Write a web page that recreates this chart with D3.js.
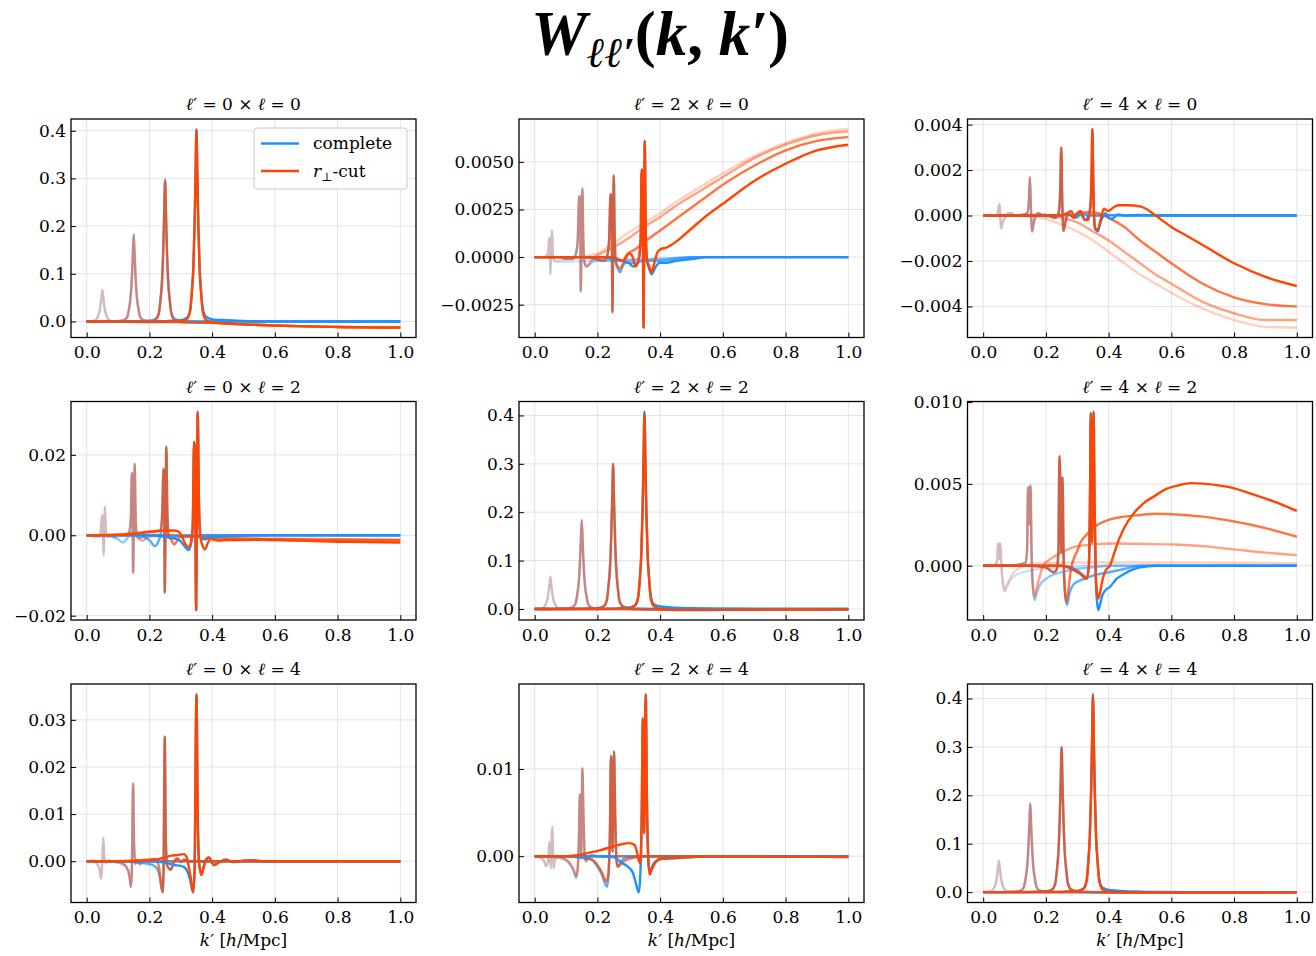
<!DOCTYPE html>
<html><head><meta charset="utf-8">
<script src="https://cdn.jsdelivr.net/npm/d3@7"></script>
<style>body{margin:0;background:#fff}</style>
</head><body><svg id="chart" width="1316" height="956"></svg>
<script>
// ---------------- data ----------------
const kCentres = [0.05, 0.15, 0.25, 0.35];
const curveAlphas = [0.25, 0.5, 0.75, 1.0];
const xTickValues = [0, 0.2, 0.4, 0.6, 0.8, 1.0];
const legendLabels = ["complete", "r⊥-cut"];

const yTicks_0x0 = [0, 0.1, 0.2, 0.3, 0.4];
const yTicks_2x0 = [-0.0025, 0, 0.0025, 0.005];
const yTicks_4x0 = [-0.004, -0.002, 0, 0.002, 0.004];
const yTicks_0x2 = [-0.02, 0, 0.02];
const yTicks_2x2 = [0, 0.1, 0.2, 0.3, 0.4];
const yTicks_4x2 = [0, 0.005, 0.01];
const yTicks_0x4 = [0, 0.01, 0.02, 0.03];
const yTicks_2x4 = [0, 0.01];
const yTicks_4x4 = [0, 0.1, 0.2, 0.3, 0.4];

// each list: one curve per k in kCentres, points [k', W]
const complete_0x0 = [
 [[0,0.0004],[0.02,0.0013],[0.03,0.004],[0.035,0.010],[0.04,0.0187],[0.044,0.0333],[0.047,0.050],[0.05,0.0667],[0.053,0.050],[0.056,0.0333],[0.06,0.0187],[0.065,0.010],[0.07,0.004],[0.08,0.0013],[0.1,0.0004],[0.2,0],[1.0,0]],
 [[0,0],[0.05,0],[0.1,0.0011],[0.12,0.0035],[0.13,0.011],[0.135,0.0275],[0.14,0.0512],[0.144,0.0915],[0.147,0.137],[0.15,0.183],[0.153,0.137],[0.156,0.0915],[0.16,0.0512],[0.165,0.0275],[0.17,0.011],[0.18,0.0035],[0.2,0.0011],[0.3,0],[1.0,0]],
 [[0,0],[0.1,0],[0.2,0.0018],[0.22,0.0056],[0.23,0.018],[0.235,0.0447],[0.24,0.0834],[0.244,0.149],[0.247,0.2235],[0.25,0.298],[0.253,0.2235],[0.256,0.149],[0.26,0.0834],[0.265,0.0447],[0.27,0.018],[0.28,0.0056],[0.3,0.0018],[0.4,0],[1.0,0]],
 [[0,0],[0.2,0],[0.3,0.0028],[0.32,0.008],[0.33,0.025],[0.335,0.0608],[0.34,0.113],[0.344,0.202],[0.347,0.303],[0.35,0.4038],[0.353,0.303],[0.356,0.202],[0.36,0.114],[0.365,0.062],[0.37,0.027],[0.38,0.010],[0.4,0.0045],[0.45,0.0025],[0.5,0.001],[0.6,0],[1.0,0]]
];
const cut_0x0 = [
 [[0,0],[0.02,0.0011],[0.03,0.0037],[0.035,0.0095],[0.04,0.0183],[0.044,0.0328],[0.047,0.0495],[0.05,0.0662],[0.053,0.0495],[0.056,0.0327],[0.06,0.0181],[0.065,0.0093],[0.07,0.0033],[0.08,0.0005],[0.1,-0.0004],[0.2,-0.0008],[0.3,-0.0018],[0.4,-0.003],[0.45,-0.0044],[0.5,-0.006],[0.6,-0.0085],[0.7,-0.0102],[0.8,-0.0115],[0.9,-0.0123],[1.0,-0.0126]],
 [[0,0],[0.05,-0.0003],[0.1,0.0003],[0.12,0.0026],[0.13,0.0101],[0.135,0.0266],[0.14,0.0503],[0.144,0.0906],[0.147,0.136],[0.15,0.182],[0.153,0.136],[0.156,0.0905],[0.16,0.0502],[0.165,0.0265],[0.17,0.010],[0.18,0.0024],[0.2,-0.0001],[0.3,-0.0018],[0.4,-0.003],[0.45,-0.0044],[0.5,-0.006],[0.6,-0.0085],[0.7,-0.0102],[0.8,-0.0115],[0.9,-0.0123],[1.0,-0.0127]],
 [[0,0],[0.1,-0.0005],[0.2,0.0005],[0.22,0.0042],[0.23,0.0165],[0.235,0.0428],[0.24,0.0815],[0.244,0.147],[0.247,0.2215],[0.25,0.296],[0.253,0.2215],[0.256,0.147],[0.26,0.0813],[0.265,0.0425],[0.27,0.016],[0.28,0.0032],[0.3,-0.0008],[0.35,-0.0022],[0.4,-0.003],[0.45,-0.0044],[0.5,-0.006],[0.6,-0.0085],[0.7,-0.0102],[0.8,-0.0115],[0.9,-0.0123],[1.0,-0.0127]],
 [[0,0],[0.1,-0.0004],[0.2,-0.001],[0.3,0.0003],[0.32,0.0055],[0.33,0.0222],[0.335,0.058],[0.34,0.110],[0.344,0.199],[0.347,0.300],[0.35,0.401],[0.353,0.300],[0.356,0.199],[0.36,0.110],[0.365,0.057],[0.37,0.021],[0.38,0.004],[0.4,-0.002],[0.45,-0.0042],[0.5,-0.006],[0.6,-0.0085],[0.7,-0.0103],[0.8,-0.0116],[0.9,-0.0124],[1.0,-0.0128]]
];

const complete_2x0 = [
 [[0,0],[0.03,0],[0.04,0.0001],[0.044,0.0004],[0.046,0.001],[0.048,0.0009],[0.05,-0.0009],[0.052,0.0004],[0.055,0.0014],[0.058,0.0002],[0.062,-0.0002],[0.07,-0.00025],[0.1,-0.00025],[0.15,-0.0002],[0.2,-0.00018],[0.3,-0.00015],[0.4,-0.0001],[0.5,-0.00005],[0.6,0],[1.0,0]],
 [[0,0],[0.08,0],[0.1,-0.0001],[0.12,-0.0001],[0.13,0.0001],[0.137,0.0008],[0.142,0.0032],[0.145,0.0031],[0.147,-0.0018],[0.149,0.0008],[0.152,0.0036],[0.155,0.0009],[0.158,-0.0002],[0.165,-0.0005],[0.175,-0.0004],[0.19,-0.0002],[0.2,-0.0002],[0.25,-0.0002],[0.3,-0.00015],[0.4,-0.0001],[0.5,0],[1.0,0]],
 [[0,0],[0.15,0],[0.2,-0.0001],[0.22,-0.0002],[0.23,0.0],[0.237,0.0008],[0.242,0.0033],[0.245,0.0032],[0.248,-0.0029],[0.25,0.0005],[0.252,0.0043],[0.255,0.0012],[0.258,-0.0002],[0.265,-0.0006],[0.272,-0.0008],[0.28,-0.0005],[0.29,-0.0003],[0.3,-0.0003],[0.32,-0.0003],[0.35,-0.0002],[0.4,-0.0002],[0.45,-0.0001],[0.5,0],[1.0,0]],
 [[0,0],[0.2,0],[0.25,-0.0001],[0.28,-0.0002],[0.3,-0.0003],[0.315,-0.0005],[0.325,-0.0004],[0.333,0.0],[0.338,0.001],[0.341,0.0046],[0.344,0.0045],[0.347,-0.0037],[0.349,0.001],[0.351,0.0061],[0.354,0.0015],[0.358,-0.0002],[0.365,-0.0006],[0.373,-0.0009],[0.38,-0.0007],[0.39,-0.0004],[0.4,-0.0003],[0.42,-0.0003],[0.45,-0.0002],[0.5,-0.0001],[0.55,0],[1.0,0]]
];
const cut_2x0 = [
 [[0,0],[0.03,0],[0.04,0.0001],[0.044,0.0004],[0.046,0.001],[0.048,0.0009],[0.05,-0.0009],[0.052,0.0004],[0.055,0.0014],[0.058,0.0002],[0.062,-0.0002],[0.07,-0.0002],[0.09,-0.00015],[0.12,-0.00005],[0.15,0.00003],[0.2,0.0002],[0.25,0.0007],[0.3,0.0013],[0.35,0.0018],[0.4,0.0023],[0.45,0.0029],[0.5,0.0034],[0.55,0.0039],[0.6,0.0044],[0.7,0.0053],[0.8,0.006],[0.9,0.0065],[1.0,0.00673]],
 [[0,0],[0.08,0],[0.1,-0.0001],[0.12,-0.0001],[0.13,0.0001],[0.137,0.0008],[0.142,0.0032],[0.145,0.0031],[0.147,-0.0018],[0.149,0.0008],[0.152,0.0036],[0.155,0.0009],[0.158,-0.0002],[0.165,-0.0005],[0.175,-0.0003],[0.19,0.0],[0.2,0.0001],[0.25,0.0005],[0.3,0.001],[0.35,0.0016],[0.4,0.0021],[0.45,0.0027],[0.5,0.0032],[0.55,0.0037],[0.6,0.0042],[0.7,0.0052],[0.8,0.0059],[0.9,0.0064],[1.0,0.0066]],
 [[0,0],[0.15,0],[0.2,-0.0001],[0.22,-0.0002],[0.23,0.0],[0.237,0.0008],[0.242,0.0033],[0.245,0.0032],[0.248,-0.0029],[0.25,0.0005],[0.252,0.0043],[0.255,0.0012],[0.258,-0.0002],[0.265,-0.0005],[0.272,-0.0006],[0.28,-0.0004],[0.29,-0.0001],[0.3,0.0002],[0.32,0.0004],[0.35,0.0008],[0.4,0.0014],[0.45,0.002],[0.5,0.0026],[0.55,0.0032],[0.6,0.0038],[0.7,0.0048],[0.8,0.0056],[0.9,0.0061],[1.0,0.0063]],
 [[0,0],[0.2,0],[0.25,0.0],[0.28,-0.0002],[0.3,0.0002],[0.31,0.0001],[0.322,-0.0005],[0.333,0.0],[0.338,0.001],[0.341,0.0046],[0.344,0.0044],[0.347,-0.0037],[0.349,0.001],[0.351,0.0061],[0.354,0.0015],[0.358,-0.0001],[0.365,-0.0005],[0.372,-0.0008],[0.38,-0.0004],[0.39,0.0002],[0.4,0.0004],[0.42,0.0005],[0.45,0.0008],[0.5,0.0015],[0.55,0.0022],[0.6,0.0028],[0.7,0.004],[0.8,0.0049],[0.9,0.0056],[1.0,0.0059]]
];

const complete_4x0 = [
 [[0,0],[0.04,0],[0.046,0.0001],[0.05,0.0004],[0.052,0.0005],[0.054,0.0001],[0.057,-0.00057],[0.062,-0.0003],[0.07,-0.0001],[0.08,0.0001],[0.09,0.00012],[0.1,0.0],[0.12,-0.00003],[0.15,0.00005],[0.2,0.00003],[0.3,0],[1.0,0]],
 [[0,0],[0.1,0],[0.13,0.00005],[0.14,0.0001],[0.145,0.0005],[0.149,0.0017],[0.152,0.0004],[0.156,-0.0007],[0.16,-0.0004],[0.165,-0.0001],[0.175,0.0001],[0.19,0.0],[0.2,-0.00005],[0.25,0],[0.3,0.00003],[0.4,0],[1.0,0]],
 [[0,0],[0.15,0],[0.2,0.00003],[0.23,-0.0001],[0.24,0.0001],[0.245,0.0008],[0.249,0.003],[0.252,0.0007],[0.256,-0.00068],[0.262,-0.0003],[0.27,0.0001],[0.28,0.0002],[0.29,0.0],[0.3,-0.0001],[0.31,0.0001],[0.33,0.00005],[0.35,0],[0.4,0.00003],[0.5,0],[1.0,0]],
 [[0,0],[0.25,0],[0.27,0.0001],[0.29,-0.0001],[0.31,0.0001],[0.325,-0.0002],[0.335,0.0],[0.342,0.0004],[0.346,0.002],[0.348,0.0038],[0.351,0.0015],[0.354,-0.0002],[0.358,-0.0006],[0.366,-0.0007],[0.372,-0.0004],[0.38,-0.0001],[0.39,0.0001],[0.4,-0.0001],[0.41,-0.00015],[0.43,0.00005],[0.45,0.0],[0.5,0.00003],[0.6,0],[1.0,0]]
];
const cut_4x0 = [
 [[0,0],[0.04,0],[0.046,0.0001],[0.05,0.0004],[0.052,0.0005],[0.054,0.0001],[0.057,-0.00057],[0.062,-0.0003],[0.07,-0.0001],[0.08,0.0001],[0.09,0.0001],[0.1,0.0],[0.12,0.0],[0.15,-0.00005],[0.2,-0.00015],[0.25,-0.0004],[0.3,-0.0007],[0.35,-0.0011],[0.4,-0.0016],[0.45,-0.0021],[0.5,-0.0026],[0.55,-0.003],[0.6,-0.0034],[0.7,-0.0041],[0.8,-0.0046],[0.9,-0.0049],[1.0,-0.00493]],
 [[0,0],[0.1,0],[0.13,0.00005],[0.14,0.0001],[0.145,0.0005],[0.149,0.0017],[0.152,0.0004],[0.156,-0.0007],[0.16,-0.0004],[0.165,-0.0001],[0.175,0.0001],[0.19,0.0],[0.2,0.0],[0.25,-0.0001],[0.3,-0.0003],[0.35,-0.0007],[0.4,-0.0011],[0.45,-0.0016],[0.5,-0.0021],[0.55,-0.0026],[0.6,-0.003],[0.7,-0.0038],[0.8,-0.0043],[0.9,-0.0046],[1.0,-0.0046]],
 [[0,0],[0.15,0],[0.2,0.00003],[0.23,-0.0001],[0.24,0.0001],[0.245,0.0008],[0.249,0.003],[0.252,0.0007],[0.256,-0.00068],[0.262,-0.0003],[0.27,0.0001],[0.28,0.0002],[0.29,0.0],[0.3,0.0001],[0.33,0.00015],[0.36,0.00012],[0.4,-0.0001],[0.45,-0.0005],[0.5,-0.0011],[0.55,-0.0016],[0.6,-0.0021],[0.7,-0.003],[0.8,-0.0036],[0.9,-0.0039],[1.0,-0.004]],
 [[0,0],[0.2,0],[0.25,0.0],[0.27,0.0001],[0.29,-0.0001],[0.3,0.0001],[0.31,0.0002],[0.325,-0.0002],[0.335,-0.0002],[0.342,0.0004],[0.346,0.002],[0.348,0.00381],[0.351,0.0015],[0.354,-0.0002],[0.358,-0.0006],[0.366,-0.0006],[0.374,-0.0002],[0.385,0.0003],[0.39,0.00025],[0.4,0.0002],[0.41,0.0003],[0.43,0.00045],[0.46,0.00045],[0.5,0.0004],[0.53,0.0002],[0.55,0.0],[0.6,-0.0005],[0.65,-0.0009],[0.7,-0.0013],[0.8,-0.0021],[0.9,-0.0027],[1.0,-0.0031]]
];

const complete_0x2 = [
 [[0,0],[0.02,-0.0002],[0.035,-0.0005],[0.043,0.0],[0.049,0.005],[0.051,0.004],[0.054,-0.005],[0.056,0.001],[0.058,0.0072],[0.061,0.0015],[0.065,-0.0005],[0.075,-0.0002],[0.09,-0.0005],[0.1,-0.0003],[0.12,0],[1.0,0]],
 [[0,0],[0.05,0],[0.08,-0.0003],[0.1,-0.001],[0.115,-0.0018],[0.125,-0.0012],[0.135,0.0],[0.141,0.004],[0.144,0.0155],[0.146,0.014],[0.148,-0.0093],[0.15,0.0],[0.153,0.0178],[0.156,0.005],[0.16,-0.0005],[0.168,-0.0008],[0.18,-0.0004],[0.2,-0.0002],[0.25,-0.0001],[0.3,0],[1.0,0]],
 [[0,0],[0.15,0],[0.18,-0.0004],[0.2,-0.0012],[0.217,-0.0027],[0.227,-0.0018],[0.235,0.0],[0.241,0.005],[0.245,0.0165],[0.247,0.015],[0.249,-0.0143],[0.251,0.0],[0.254,0.022],[0.257,0.006],[0.261,-0.0005],[0.27,-0.0008],[0.28,-0.0004],[0.3,-0.0002],[0.35,-0.0001],[0.4,0],[1.0,0]],
 [[0,0],[0.2,0],[0.25,-0.0004],[0.28,-0.0008],[0.3,-0.0015],[0.315,-0.003],[0.325,-0.0037],[0.333,-0.002],[0.338,0.002],[0.3425,0.0233],[0.345,0.021],[0.349,-0.0186],[0.351,0.0],[0.354,0.0308],[0.358,0.008],[0.362,0.0],[0.368,-0.0008],[0.378,-0.001],[0.39,-0.0006],[0.4,-0.0004],[0.45,-0.0002],[0.5,-0.0001],[0.55,0],[1.0,0]]
];
const cut_0x2 = [
 [[0,0],[0.02,-0.0002],[0.035,-0.0004],[0.043,0.0],[0.049,0.005],[0.051,0.004],[0.054,-0.005],[0.056,0.001],[0.058,0.0072],[0.061,0.0015],[0.065,-0.0004],[0.075,0.0],[0.09,-0.0004],[0.1,0.0],[0.15,0.0002],[0.2,0.0002],[0.3,0.0],[0.4,-0.0003],[0.5,-0.0005],[0.6,-0.0007],[0.8,-0.0009],[1.0,-0.001]],
 [[0,0],[0.05,0],[0.08,0.0],[0.1,0.0001],[0.115,0.0],[0.125,0.0],[0.135,0.0008],[0.141,0.0045],[0.144,0.0155],[0.146,0.014],[0.148,-0.0093],[0.15,0.0],[0.153,0.0178],[0.156,0.005],[0.16,0.0],[0.168,-0.0008],[0.178,-0.0014],[0.19,-0.0008],[0.2,-0.0002],[0.25,0.0],[0.3,-0.0002],[0.4,-0.0005],[0.5,-0.0008],[0.6,-0.001],[0.8,-0.0011],[1.0,-0.0012]],
 [[0,0],[0.1,0.0002],[0.15,0.0005],[0.2,0.0009],[0.22,0.001],[0.235,0.0012],[0.241,0.006],[0.245,0.0165],[0.247,0.015],[0.249,-0.0143],[0.251,0.0],[0.254,0.022],[0.257,0.006],[0.261,0.0],[0.27,-0.0012],[0.279,-0.0023],[0.29,-0.0012],[0.3,-0.0003],[0.35,-0.0004],[0.4,-0.0007],[0.5,-0.0009],[0.6,-0.001],[0.8,-0.0011],[1.0,-0.0012]],
 [[0,0],[0.1,0.0001],[0.15,0.0003],[0.2,0.0008],[0.25,0.0012],[0.28,0.0012],[0.295,0.0008],[0.305,-0.0005],[0.315,-0.0022],[0.325,-0.003],[0.333,-0.0015],[0.338,0.002],[0.3425,0.0233],[0.345,0.021],[0.349,-0.0186],[0.351,0.0],[0.354,0.0306],[0.358,0.008],[0.362,0.0],[0.368,-0.0022],[0.377,-0.0035],[0.386,-0.002],[0.395,-0.0008],[0.405,-0.0011],[0.42,-0.0013],[0.45,-0.0012],[0.5,-0.0012],[0.55,-0.0011],[0.6,-0.0012],[0.7,-0.0014],[0.8,-0.0016],[0.9,-0.0017],[1.0,-0.0018]]
];

const complete_2x2 = [
 [[0,0.0004],[0.02,0.0013],[0.03,0.004],[0.035,0.010],[0.04,0.0188],[0.044,0.0334],[0.047,0.0502],[0.05,0.0669],[0.053,0.0502],[0.056,0.0334],[0.06,0.0188],[0.065,0.010],[0.07,0.004],[0.08,0.0013],[0.1,0.0004],[0.2,0],[1.0,0]],
 [[0,0],[0.05,0],[0.1,0.0011],[0.12,0.0035],[0.13,0.011],[0.135,0.0276],[0.14,0.0515],[0.144,0.092],[0.147,0.138],[0.15,0.184],[0.153,0.138],[0.156,0.092],[0.16,0.0515],[0.165,0.0276],[0.17,0.011],[0.18,0.0035],[0.2,0.0011],[0.3,0],[1.0,0]],
 [[0,0],[0.1,0],[0.2,0.0018],[0.22,0.0056],[0.23,0.018],[0.235,0.045],[0.24,0.084],[0.244,0.150],[0.247,0.225],[0.25,0.300],[0.253,0.225],[0.256,0.150],[0.26,0.084],[0.265,0.045],[0.27,0.018],[0.28,0.006],[0.3,0.0022],[0.35,0.0005],[0.4,0],[1.0,0]],
 [[0,0],[0.2,0],[0.3,0.0025],[0.32,0.0077],[0.33,0.025],[0.335,0.061],[0.34,0.114],[0.344,0.204],[0.347,0.306],[0.35,0.4083],[0.353,0.306],[0.356,0.204],[0.36,0.115],[0.365,0.063],[0.37,0.027],[0.38,0.010],[0.4,0.005],[0.45,0.0025],[0.5,0.0015],[0.6,0.0005],[0.7,0],[1.0,0]]
];
const cut_2x2 = [
 [[0,0.0003],[0.02,0.0012],[0.03,0.0039],[0.035,0.0098],[0.04,0.0186],[0.044,0.0332],[0.047,0.050],[0.05,0.0666],[0.053,0.050],[0.056,0.0332],[0.06,0.0186],[0.065,0.0098],[0.07,0.0039],[0.08,0.0011],[0.1,0.0002],[0.2,-0.0003],[0.4,-0.0005],[0.6,-0.0005],[1.0,-0.0004]],
 [[0,0],[0.05,0],[0.1,0.001],[0.12,0.0033],[0.13,0.0108],[0.135,0.0274],[0.14,0.0513],[0.144,0.0918],[0.147,0.1375],[0.15,0.1835],[0.153,0.1375],[0.156,0.0918],[0.16,0.0512],[0.165,0.0273],[0.17,0.0106],[0.18,0.003],[0.2,0.0006],[0.3,-0.0008],[0.5,-0.0009],[0.7,-0.0008],[1.0,-0.0006]],
 [[0,0],[0.1,0],[0.2,0.0016],[0.22,0.0054],[0.23,0.0178],[0.235,0.0448],[0.24,0.0838],[0.244,0.1495],[0.247,0.2245],[0.25,0.2995],[0.253,0.2245],[0.256,0.1495],[0.26,0.0835],[0.265,0.0445],[0.27,0.0174],[0.28,0.005],[0.3,0.0008],[0.35,-0.0012],[0.4,-0.0014],[0.6,-0.0013],[0.8,-0.001],[1.0,-0.0008]],
 [[0,0],[0.2,0],[0.3,0.0018],[0.32,0.007],[0.33,0.024],[0.335,0.0603],[0.34,0.113],[0.344,0.202],[0.347,0.303],[0.35,0.404],[0.353,0.303],[0.356,0.202],[0.36,0.112],[0.365,0.0595],[0.37,0.022],[0.38,0.0055],[0.4,0.0],[0.45,-0.0023],[0.5,-0.0022],[0.6,-0.0018],[0.7,-0.0015],[0.8,-0.0012],[0.9,-0.001],[1.0,-0.0009]]
];

const complete_4x2 = [
 [[0,0],[0.03,0],[0.04,0.0001],[0.045,0.0004],[0.047,0.00136],[0.049,0.0012],[0.051,0.0004],[0.053,0.0011],[0.055,0.00136],[0.058,0.0],[0.062,-0.0009],[0.068,-0.0016],[0.075,-0.0013],[0.09,-0.0008],[0.11,-0.0005],[0.15,-0.0003],[0.2,-0.00015],[0.3,-0.00005],[0.4,0],[1.0,0]],
 [[0,0],[0.08,0],[0.12,0.0001],[0.135,0.0002],[0.14,0.001],[0.143,0.0048],[0.145,0.0046],[0.147,0.0025],[0.149,0.0045],[0.151,0.0049],[0.154,0.001],[0.158,-0.0012],[0.164,-0.0021],[0.17,-0.0017],[0.18,-0.0012],[0.2,-0.0008],[0.23,-0.0005],[0.27,-0.0003],[0.3,-0.0002],[0.35,-0.0001],[0.4,0],[1.0,0]],
 [[0,0],[0.15,0],[0.2,-0.0001],[0.225,-0.0004],[0.235,-0.0002],[0.24,0.001],[0.243,0.0067],[0.246,0.005],[0.249,0.0008],[0.251,0.003],[0.253,0.0054],[0.256,0.001],[0.26,-0.0015],[0.267,-0.0024],[0.275,-0.0017],[0.29,-0.0011],[0.31,-0.0009],[0.35,-0.0006],[0.4,-0.0004],[0.45,-0.0002],[0.5,0],[1.0,0]],
 [[0,0],[0.25,0],[0.28,-0.0001],[0.3,-0.0003],[0.32,-0.0006],[0.33,-0.0008],[0.337,0.0],[0.341,0.005],[0.343,0.00935],[0.345,0.006],[0.347,0.0014],[0.349,0.005],[0.352,0.00943],[0.355,0.004],[0.359,-0.0008],[0.363,-0.0022],[0.367,-0.00271],[0.372,-0.0024],[0.38,-0.0018],[0.39,-0.0015],[0.404,-0.0013],[0.425,-0.0008],[0.45,-0.0005],[0.468,-0.0003],[0.5,-0.0001],[0.55,0],[1.0,0]]
];
const cut_4x2 = [
 [[0,0],[0.03,0],[0.04,0.0001],[0.045,0.0004],[0.047,0.00136],[0.049,0.0012],[0.051,0.0004],[0.053,0.0011],[0.055,0.00136],[0.058,0.0],[0.062,-0.0009],[0.068,-0.0015],[0.075,-0.0012],[0.09,-0.0006],[0.11,-0.0002],[0.15,0.0001],[0.2,0.00018],[0.3,0.0002],[0.5,0.0002],[0.7,0.0002],[1.0,0.00015]],
 [[0,0],[0.08,0],[0.12,0.0001],[0.135,0.0002],[0.14,0.001],[0.143,0.0048],[0.145,0.0046],[0.147,0.0025],[0.149,0.0045],[0.151,0.0049],[0.154,0.001],[0.158,-0.0011],[0.164,-0.0019],[0.17,-0.0014],[0.18,-0.0007],[0.19,0.0],[0.2,0.0002],[0.225,0.00055],[0.25,0.0008],[0.27,0.001],[0.3,0.0012],[0.33,0.00126],[0.36,0.00132],[0.415,0.00136],[0.5,0.00134],[0.6,0.0013],[0.7,0.0012],[0.8,0.001],[0.9,0.0008],[1.0,0.00065]],
 [[0,0],[0.15,0],[0.2,-0.0001],[0.225,-0.0004],[0.235,-0.0002],[0.24,0.001],[0.243,0.0067],[0.246,0.005],[0.249,0.0008],[0.251,0.003],[0.253,0.0054],[0.256,0.001],[0.26,-0.0013],[0.265,-0.0022],[0.27,-0.0017],[0.28,-0.0002],[0.29,0.0005],[0.3,0.0009],[0.31,0.0014],[0.33,0.0019],[0.35,0.0023],[0.4,0.0028],[0.45,0.003],[0.5,0.0031],[0.55,0.00318],[0.6,0.00315],[0.7,0.003],[0.8,0.0027],[0.9,0.0023],[1.0,0.00177]],
 [[0,0],[0.2,0],[0.25,0.0],[0.27,-0.0001],[0.288,-0.00025],[0.31,-0.0005],[0.33,-0.0008],[0.337,0.0],[0.341,0.005],[0.343,0.0093],[0.345,0.006],[0.347,0.0014],[0.349,0.005],[0.352,0.0094],[0.355,0.004],[0.359,-0.0005],[0.363,-0.0017],[0.367,-0.002],[0.373,-0.0016],[0.38,-0.0009],[0.39,-0.0003],[0.404,0.0],[0.42,0.0009],[0.435,0.0017],[0.452,0.0024],[0.48,0.0032],[0.51,0.0038],[0.55,0.0043],[0.584,0.0047],[0.62,0.0049],[0.663,0.00505],[0.7,0.00502],[0.785,0.0048],[0.87,0.0043],[0.93,0.0039],[1.0,0.00335]]
];

const complete_0x4 = [
 [[0,0],[0.02,0.0],[0.03,-0.0003],[0.04,-0.0015],[0.046,-0.0038],[0.049,-0.001],[0.053,0.005],[0.056,0.001],[0.06,-0.0003],[0.07,0.0002],[0.08,-0.0001],[0.1,0.0],[0.15,-0.0001],[0.2,0],[1.0,0]],
 [[0,0],[0.05,0],[0.1,-0.0003],[0.12,-0.0008],[0.132,-0.002],[0.138,-0.004],[0.141,-0.0055],[0.144,-0.002],[0.148,0.0166],[0.151,0.004],[0.155,-0.0005],[0.16,0.0003],[0.17,-0.0005],[0.18,0.0002],[0.2,-0.0002],[0.25,0],[1.0,0]],
 [[0,0],[0.1,0],[0.15,-0.0002],[0.2,-0.0006],[0.22,-0.0012],[0.232,-0.003],[0.238,-0.0055],[0.242,-0.0066],[0.245,-0.002],[0.249,0.0265],[0.252,0.006],[0.256,-0.0008],[0.262,-0.0015],[0.268,-0.0018],[0.278,-0.0002],[0.29,0.0006],[0.3,-0.0002],[0.31,0.0003],[0.33,0.0],[0.4,0],[1.0,0]],
 [[0,0],[0.2,0],[0.25,-0.0003],[0.28,-0.0008],[0.3,-0.001],[0.31,-0.0012],[0.32,-0.002],[0.33,-0.004],[0.336,-0.006],[0.34,-0.00665],[0.344,-0.002],[0.35,0.0355],[0.354,0.01],[0.358,0.0],[0.362,-0.002],[0.366,-0.0029],[0.372,-0.0015],[0.38,0.0003],[0.39,0.0008],[0.4,-0.0004],[0.406,-0.0008],[0.42,-0.0003],[0.443,0.0003],[0.47,-0.0002],[0.5,0.0001],[0.53,0.0002],[0.55,0],[1.0,0]]
];
const cut_0x4 = [
 [[0,0],[0.02,0.0002],[0.03,-0.0002],[0.04,-0.0014],[0.046,-0.0037],[0.049,-0.001],[0.053,0.005],[0.056,0.001],[0.06,-0.0003],[0.07,0.0002],[0.08,-0.0001],[0.1,0.0],[0.15,0.0],[0.2,0],[1.0,0]],
 [[0,0],[0.05,0],[0.1,-0.0002],[0.12,-0.0007],[0.132,-0.0019],[0.138,-0.0039],[0.141,-0.0054],[0.144,-0.002],[0.148,0.0165],[0.151,0.004],[0.155,-0.0006],[0.16,0.0002],[0.17,-0.0007],[0.18,0.0],[0.2,0.0002],[0.22,0.0004],[0.25,0.0],[0.3,0],[1.0,0]],
 [[0,0],[0.1,0],[0.15,0.0001],[0.2,0.0004],[0.215,0.0005],[0.228,-0.0005],[0.236,-0.004],[0.242,-0.0065],[0.245,-0.002],[0.249,0.0264],[0.252,0.006],[0.256,-0.0008],[0.262,-0.0015],[0.268,-0.0018],[0.278,-0.0002],[0.29,0.0006],[0.3,-0.0002],[0.31,0.0003],[0.33,0.0],[0.4,0],[1.0,0]],
 [[0,0],[0.1,0],[0.2,0.0002],[0.25,0.0008],[0.27,0.0012],[0.29,0.0013],[0.31,0.0015],[0.318,0.001],[0.325,-0.001],[0.333,-0.004],[0.339,-0.0064],[0.344,-0.002],[0.35,0.0353],[0.354,0.01],[0.358,0.0],[0.362,-0.002],[0.366,-0.0029],[0.372,-0.0015],[0.38,0.0003],[0.39,0.0008],[0.4,-0.0004],[0.406,-0.0008],[0.42,-0.0003],[0.443,0.0003],[0.47,-0.0002],[0.5,0.0001],[0.53,0.0002],[0.56,0],[1.0,0]]
];

const complete_2x4 = [
 [[0,0],[0.02,-0.0002],[0.03,-0.0006],[0.036,-0.0012],[0.042,-0.0008],[0.045,0.0003],[0.047,0.0016],[0.049,0.0012],[0.051,-0.0014],[0.053,0.0005],[0.056,0.0034],[0.058,0.0012],[0.06,-0.0014],[0.065,-0.0004],[0.08,0.0],[0.1,-0.0001],[0.15,0],[1.0,0]],
 [[0,0],[0.05,0],[0.09,-0.0003],[0.11,-0.0008],[0.125,-0.0018],[0.132,-0.0025],[0.137,-0.0015],[0.141,0.002],[0.144,0.0071],[0.146,0.006],[0.148,0.0],[0.15,0.004],[0.152,0.0101],[0.156,0.004],[0.16,-0.0002],[0.164,-0.0005],[0.17,-0.0002],[0.18,0.0001],[0.2,0.0],[1.0,0]],
 [[0,0],[0.1,0],[0.15,-0.0002],[0.18,-0.0004],[0.2,-0.0012],[0.215,-0.0022],[0.225,-0.0032],[0.231,-0.0035],[0.236,-0.002],[0.24,0.003],[0.243,0.0115],[0.246,0.009],[0.248,0.0005],[0.25,0.005],[0.253,0.012],[0.257,0.004],[0.261,-0.0005],[0.265,-0.0012],[0.272,-0.0008],[0.28,-0.0004],[0.3,-0.0001],[0.35,0],[1.0,0]],
 [[0,0],[0.2,0],[0.25,-0.0001],[0.28,-0.0008],[0.3,-0.0013],[0.313,-0.0019],[0.322,-0.003],[0.332,-0.00417],[0.337,-0.002],[0.341,0.004],[0.345,0.0158],[0.347,0.01],[0.349,0.0026],[0.351,0.01],[0.354,0.0186],[0.358,0.006],[0.362,-0.0005],[0.366,-0.0018],[0.372,-0.0014],[0.38,-0.0008],[0.398,-0.0004],[0.42,-0.0002],[0.45,-0.0002],[0.5,-0.0001],[0.55,0],[1.0,0]]
];
const cut_2x4 = [
 [[0,0],[0.02,-0.0002],[0.03,-0.0005],[0.036,-0.0011],[0.042,-0.0007],[0.045,0.0003],[0.047,0.0016],[0.049,0.0012],[0.051,-0.0014],[0.053,0.0005],[0.056,0.0034],[0.058,0.0012],[0.06,-0.0014],[0.065,-0.0004],[0.08,0.0],[0.1,0.0],[0.15,0],[1.0,0]],
 [[0,0],[0.05,0],[0.09,-0.0002],[0.11,-0.0007],[0.125,-0.0016],[0.132,-0.0023],[0.137,-0.0014],[0.141,0.002],[0.144,0.0071],[0.146,0.006],[0.148,0.0],[0.15,0.004],[0.152,0.0101],[0.156,0.004],[0.16,-0.0002],[0.164,-0.0006],[0.17,-0.0003],[0.18,0.0001],[0.2,0.0],[1.0,0]],
 [[0,0],[0.1,0],[0.15,-0.0001],[0.18,-0.0003],[0.2,-0.001],[0.215,-0.0019],[0.228,-0.0029],[0.234,-0.0022],[0.24,0.003],[0.243,0.0115],[0.246,0.009],[0.248,0.0005],[0.25,0.005],[0.253,0.012],[0.257,0.004],[0.261,-0.0005],[0.265,-0.0012],[0.28,-0.0007],[0.3,-0.0003],[0.35,0],[1.0,0]],
 [[0,0],[0.1,0],[0.15,0.0002],[0.175,0.0004],[0.21,0.0007],[0.25,0.0011],[0.28,0.0014],[0.302,0.0015],[0.318,0.0013],[0.326,0.0005],[0.332,-0.0005],[0.337,-0.0008],[0.341,0.004],[0.345,0.0158],[0.347,0.01],[0.349,0.0026],[0.351,0.01],[0.354,0.0185],[0.358,0.006],[0.362,0.0],[0.366,-0.0021],[0.372,-0.0017],[0.38,-0.001],[0.39,-0.0005],[0.398,-0.0003],[0.42,-0.0003],[0.45,-0.0002],[0.5,-0.0001],[0.55,0],[1.0,-0.0001]]
];

const complete_4x4 = [
 [[0,0.0004],[0.02,0.0012],[0.03,0.0039],[0.035,0.0098],[0.04,0.0182],[0.044,0.0325],[0.047,0.0488],[0.05,0.065],[0.053,0.0488],[0.056,0.0325],[0.06,0.0182],[0.065,0.0098],[0.07,0.0039],[0.08,0.0012],[0.1,0.0004],[0.2,0],[1.0,0]],
 [[0,0],[0.05,0],[0.1,0.0011],[0.12,0.0035],[0.13,0.011],[0.135,0.0275],[0.14,0.0514],[0.144,0.0918],[0.147,0.1376],[0.15,0.1835],[0.153,0.1376],[0.156,0.0918],[0.16,0.0514],[0.165,0.0275],[0.17,0.011],[0.18,0.0035],[0.2,0.0011],[0.3,0],[1.0,0]],
 [[0,0],[0.1,0],[0.2,0.0018],[0.22,0.0056],[0.23,0.018],[0.235,0.045],[0.24,0.084],[0.244,0.150],[0.247,0.225],[0.25,0.300],[0.253,0.225],[0.256,0.150],[0.26,0.084],[0.265,0.045],[0.27,0.018],[0.28,0.0058],[0.3,0.002],[0.35,0.0004],[0.4,0],[1.0,0]],
 [[0,0],[0.2,0],[0.3,0.0025],[0.32,0.0077],[0.33,0.0246],[0.335,0.0614],[0.34,0.115],[0.344,0.205],[0.347,0.307],[0.35,0.4095],[0.353,0.307],[0.356,0.205],[0.36,0.116],[0.365,0.063],[0.37,0.027],[0.38,0.0095],[0.4,0.0045],[0.45,0.002],[0.5,0.001],[0.6,0.0002],[0.7,0],[1.0,0]]
];
const cut_4x4 = [
 [[0,0.0003],[0.02,0.0011],[0.03,0.0038],[0.035,0.0097],[0.04,0.0181],[0.044,0.0324],[0.047,0.0486],[0.05,0.0648],[0.053,0.0486],[0.056,0.0324],[0.06,0.018],[0.065,0.0096],[0.07,0.0037],[0.08,0.001],[0.1,0.0002],[0.2,-0.0002],[0.5,-0.0003],[1.0,-0.0003]],
 [[0,0],[0.05,0],[0.1,0.001],[0.12,0.0033],[0.13,0.0108],[0.135,0.0273],[0.14,0.0512],[0.144,0.0915],[0.147,0.1372],[0.15,0.183],[0.153,0.1372],[0.156,0.0915],[0.16,0.0511],[0.165,0.0272],[0.17,0.0106],[0.18,0.003],[0.2,0.0006],[0.3,-0.0004],[0.5,-0.0005],[1.0,-0.0004]],
 [[0,0],[0.1,0],[0.2,0.0016],[0.22,0.0054],[0.23,0.0178],[0.235,0.0447],[0.24,0.0837],[0.244,0.1495],[0.247,0.224],[0.25,0.299],[0.253,0.224],[0.256,0.1495],[0.26,0.0835],[0.265,0.0445],[0.27,0.0175],[0.28,0.0052],[0.3,0.001],[0.35,-0.0006],[0.4,-0.0007],[0.7,-0.0006],[1.0,-0.0005]],
 [[0,0],[0.2,0],[0.3,0.0018],[0.32,0.007],[0.33,0.0241],[0.335,0.0606],[0.34,0.1134],[0.344,0.2025],[0.347,0.304],[0.35,0.405],[0.353,0.304],[0.356,0.2025],[0.36,0.113],[0.365,0.06],[0.37,0.023],[0.38,0.006],[0.4,0.0005],[0.45,-0.0009],[0.5,-0.0009],[0.7,-0.0008],[1.0,-0.0006]]
];

// --------------- panels ---------------
const panels = [
 {lp:0,l:0,complete:complete_0x0,cut:cut_0x0,yTicks:yTicks_0x0,fmt:".1f"},
 {lp:2,l:0,complete:complete_2x0,cut:cut_2x0,yTicks:yTicks_2x0,fmt:".4f"},
 {lp:4,l:0,complete:complete_4x0,cut:cut_4x0,yTicks:yTicks_4x0,fmt:".3f"},
 {lp:0,l:2,complete:complete_0x2,cut:cut_0x2,yTicks:yTicks_0x2,fmt:".2f"},
 {lp:2,l:2,complete:complete_2x2,cut:cut_2x2,yTicks:yTicks_2x2,fmt:".1f"},
 {lp:4,l:2,complete:complete_4x2,cut:cut_4x2,yTicks:yTicks_4x2,fmt:".3f"},
 {lp:0,l:4,complete:complete_0x4,cut:cut_0x4,yTicks:yTicks_0x4,fmt:".2f"},
 {lp:2,l:4,complete:complete_2x4,cut:cut_2x4,yTicks:yTicks_2x4,fmt:".2f"},
 {lp:4,l:4,complete:complete_4x4,cut:cut_4x4,yTicks:yTicks_4x4,fmt:".1f"}
];

const BLUE = "#1E90FF", ORANGE = "#FF4500";
const FONT = "'DejaVu Serif', serif";
const LW = 2.4;
const colLeft = [71, 519, 967.5], rowTop = [119, 401.5, 684];
const PW = 345, PH = 218.5;

const svg = d3.select("#chart");
svg.append("rect").attr("width",1316).attr("height",956).attr("fill","#fff");

// main title
const title = svg.append("text").attr("x",660).attr("y",55).attr("text-anchor","middle")
  .attr("font-family","'Liberation Serif', serif").attr("font-weight","bold").attr("font-style","italic")
  .attr("font-size",63).attr("fill","#000");
title.append("tspan").text("W");
title.append("tspan").attr("font-size",42).attr("dy",12).text("ℓℓ′");
title.append("tspan").attr("dy",-12).attr("font-style","normal").text("(");
title.append("tspan").text("k");
title.append("tspan").attr("font-style","normal").text(", ");
title.append("tspan").text("k′");
title.append("tspan").attr("font-style","normal").text(")");

panels.forEach((p, i) => {
  const col = i % 3, row = Math.floor(i / 3);
  const g = svg.append("g").attr("transform", `translate(${colLeft[col]},${rowTop[row]})`);
  const pts = [...p.complete.flat(), ...p.cut.flat()];
  const [x0, x1] = d3.extent(pts, d => d[0]);
  const [y0, y1] = d3.extent(pts, d => d[1]);
  const xp = 0.05 * (x1 - x0), yp = 0.05 * (y1 - y0);
  const x = d3.scaleLinear().domain([x0 - xp, x1 + xp]).range([0, PW]);
  const y = d3.scaleLinear().domain([y0 - yp, y1 + yp]).range([PH, 0]);

  // grid
  g.append("g").selectAll("line").data(xTickValues).join("line")
    .attr("x1", d => x(d)).attr("x2", d => x(d)).attr("y1", 0).attr("y2", PH)
    .attr("stroke", "#e3e3e3").attr("stroke-width", 1);
  g.append("g").selectAll("line").data(p.yTicks).join("line")
    .attr("y1", d => y(d)).attr("y2", d => y(d)).attr("x1", 0).attr("x2", PW)
    .attr("stroke", "#e3e3e3").attr("stroke-width", 1);

  const clipId = "clip" + i;
  g.append("clipPath").attr("id", clipId).append("rect").attr("width", PW).attr("height", PH);
  const line = d3.line().x(d => x(d[0])).y(d => y(d[1])).curve(d3.curveMonotoneX);
  const lg = g.append("g").attr("clip-path", `url(#${clipId})`);
  kCentres.forEach((kc, j) => {
    lg.append("path").attr("d", line(p.complete[j])).attr("fill", "none")
      .attr("stroke", BLUE).attr("stroke-opacity", curveAlphas[j]).attr("stroke-width", LW)
      .attr("stroke-linejoin", "round");
    lg.append("path").attr("d", line(p.cut[j])).attr("fill", "none")
      .attr("stroke", ORANGE).attr("stroke-opacity", curveAlphas[j]).attr("stroke-width", LW)
      .attr("stroke-linejoin", "round");
  });

  // axes
  const ax = g.append("g").attr("transform", `translate(0,${PH})`)
    .call(d3.axisBottom(x).tickValues(xTickValues).tickFormat(d3.format(".1f")).tickSize(-5).tickPadding(8.5));
  const ay = g.append("g")
    .call(d3.axisLeft(y).tickValues(p.yTicks).tickFormat(d3.format(p.fmt)).tickSize(-5).tickPadding(5));
  [ax, ay].forEach(a => {
    a.select(".domain").remove();
    a.attr("font-family", FONT).attr("font-size", 17);
    a.selectAll("line").attr("stroke", "#000").attr("stroke-width", 1);
    a.selectAll("text").attr("fill", "#000");
  });

  g.append("rect").attr("width", PW).attr("height", PH).attr("fill", "none")
    .attr("stroke", "#000").attr("stroke-width", 1.3);

  // panel title
  const t = g.append("text").attr("x", PW / 2).attr("y", -9).attr("text-anchor", "middle")
    .attr("font-family", FONT).attr("font-size", 17).attr("fill", "#000");
  t.append("tspan").attr("font-style", "italic").text("ℓ");
  t.append("tspan").text(`′ = ${p.lp} × `);
  t.append("tspan").attr("font-style", "italic").text("ℓ");
  t.append("tspan").text(` = ${p.l}`);

  if (row === 2) {
    const xl = g.append("text").attr("x", PW / 2).attr("y", PH + 43.5).attr("text-anchor", "middle")
      .attr("font-family", FONT).attr("font-size", 17).attr("fill", "#000");
    xl.append("tspan").attr("font-style", "italic").text("k");
    xl.append("tspan").text("′ [");
    xl.append("tspan").attr("font-style", "italic").text("h");
    xl.append("tspan").text("/Mpc]");
  }

  if (i === 0) {
    const lgd = g.append("g").attr("transform", `translate(${254 - colLeft[0]},${128 - rowTop[0]})`);
    lgd.append("rect").attr("width", 153).attr("height", 61).attr("rx", 3)
      .attr("fill", "#fff").attr("fill-opacity", 0.8).attr("stroke", "#c8c8c8").attr("stroke-width", 1);
    [BLUE, ORANGE].forEach((c, j) => {
      const yy = 15.5 + j * 27.5;
      lgd.append("line").attr("x1", 7).attr("x2", 45).attr("y1", yy).attr("y2", yy)
        .attr("stroke", c).attr("stroke-width", LW);
    });
    lgd.append("text").attr("x", 59).attr("y", 21).attr("font-family", FONT).attr("font-size", 17)
      .text(legendLabels[0]);
    const lt = lgd.append("text").attr("x", 59).attr("y", 48.5).attr("font-family", FONT).attr("font-size", 17);
    lt.append("tspan").attr("font-style", "italic").text("r");
    lt.append("tspan").attr("font-size", 12).attr("dy", 4).text("⊥");
    lt.append("tspan").attr("dy", -4).text("-cut");
  }
});
</script>
</body></html>
